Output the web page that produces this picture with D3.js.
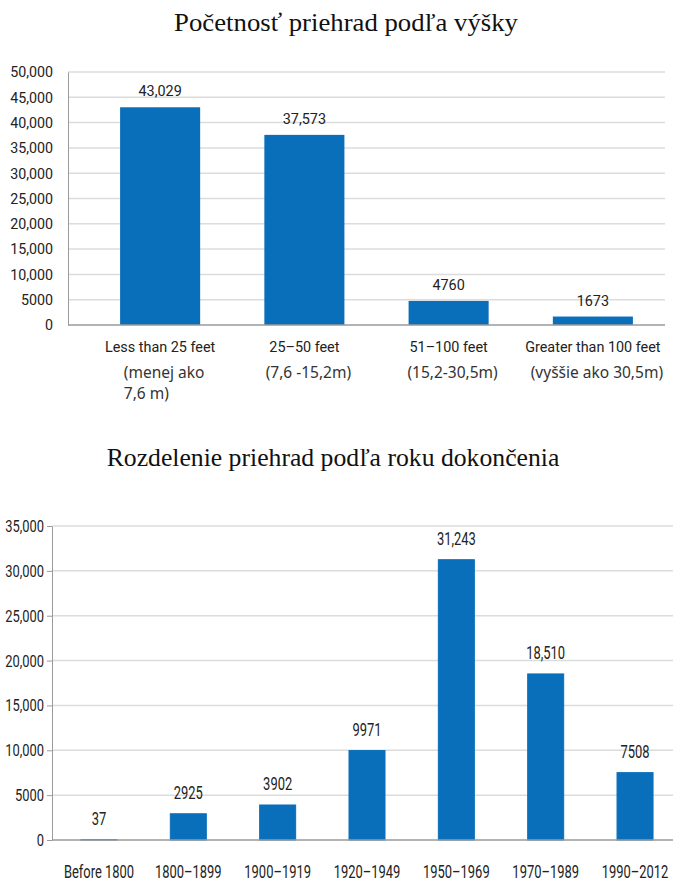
<!DOCTYPE html>
<html>
<head>
<meta charset="utf-8">
<script src="https://cdn.jsdelivr.net/npm/d3@7"></script>
<style>
  html, body { margin: 0; padding: 0; background: #fff; }
  svg { display: block; }
  .narrow { font-family: "Roboto", "Liberation Sans", sans-serif; }
</style>
</head>
<body>
<svg id="chart" width="673" height="883"></svg>
<script>
// ---- Data: chart 1 (dams by height) ----
const title1 = "Početnosť priehrad podľa výšky";
const heightCategories = ["Less than 25 feet", "25–50 feet", "51–100 feet", "Greater than 100 feet"];
const heightSubLabels = [["(menej ako", "7,6 m)"], ["(7,6 -15,2m)"], ["(15,2-30,5m)"], ["(vyššie ako 30,5m)"]];
const heightValues = [43029, 37573, 4760, 1673];
const heightValueLabels = ["43,029", "37,573", "4760", "1673"];
const heightTicks = [0, 5000, 10000, 15000, 20000, 25000, 30000, 35000, 40000, 45000, 50000];
const heightTickLabels = ["0", "5000", "10,000", "15,000", "20,000", "25,000", "30,000", "35,000", "40,000", "45,000", "50,000"];

// ---- Data: chart 2 (dams by completion year) ----
const title2 = "Rozdelenie priehrad podľa roku dokončenia";
const yearCategories = ["Before 1800", "1800–1899", "1900–1919", "1920–1949", "1950–1969", "1970–1989", "1990–2012"];
const yearValues = [37, 2925, 3902, 9971, 31243, 18510, 7508];
const yearValueLabels = ["37", "2925", "3902", "9971", "31,243", "18,510", "7508"];
const yearTicks = [0, 5000, 10000, 15000, 20000, 25000, 30000, 35000];
const yearTickLabels = ["0", "5000", "10,000", "15,000", "20,000", "25,000", "30,000", "35,000"];

const BLUE = "#0a6fba";
const GRID = "#dcdcdc";
const AXIS = "#9a9a9a";
const TEXT = "#222";

const svg = d3.select("#chart");

// helper: condensed text (scaled horizontally around its anchor)
function condensed(g, x, y, str, size, sx, anchor) {
  return g.append("text")
    .attr("class", "narrow")
    .attr("transform", `translate(${x},${y}) scale(${sx},1)`)
    .attr("text-anchor", anchor || "middle")
    .attr("font-size", size).attr("fill", TEXT)
    .text(str);
}

// ================= Chart 1 =================
{
  const g = svg.append("g");
  g.append("text")
    .attr("transform", "translate(346,31) scale(1.07,1)")
    .attr("text-anchor", "middle")
    .attr("font-family", "'Liberation Serif', 'Times New Roman', serif")
    .attr("font-size", 25)
    .attr("fill", "#111")
    .text(title1);

  const y = d3.scaleLinear().domain([0, 50000]).range([325, 72]);
  const x = d3.scaleBand().domain(heightCategories).range([88, 665])
    .paddingInner(0.445).paddingOuter(0.2225);

  g.append("g").selectAll("line").data(heightTicks.filter(t => t > 0)).join("line")
    .attr("x1", 68).attr("x2", 665)
    .attr("y1", d => y(d)).attr("y2", d => y(d))
    .attr("stroke", GRID).attr("stroke-width", 1.5);

  const sx1 = 0.95;
  const yAxis = d3.axisLeft(y).tickValues(heightTicks)
    .tickFormat((d, i) => heightTickLabels[i]).tickSize(0).tickPadding(15);
  const ya = g.append("g").attr("transform", "translate(68,0)").call(yAxis);
  ya.select(".domain").attr("stroke", AXIS).attr("stroke-width", 1);
  ya.selectAll("text").attr("class", "narrow").attr("font-size", 15).attr("fill", TEXT)
    .attr("x", -15 / sx1).attr("transform", `scale(${sx1},1)`);

  g.append("g").selectAll("rect").data(heightValues).join("rect")
    .attr("x", (d, i) => x(heightCategories[i]))
    .attr("width", x.bandwidth())
    .attr("y", d => y(d))
    .attr("height", d => y(0) - y(d))
    .attr("fill", BLUE);

  g.append("line").attr("x1", 68).attr("x2", 665).attr("y1", y(0)).attr("y2", y(0))
    .attr("stroke", AXIS).attr("stroke-width", 1.5);

  heightValues.forEach((v, i) => {
    condensed(g, x(heightCategories[i]) + x.bandwidth() / 2, y(v) - 11, heightValueLabels[i], 15, 0.96);
  });

  heightCategories.forEach(c => {
    condensed(g, x(c) + x.bandwidth() / 2, 352, c, 15, 0.96);
  });

  heightCategories.forEach((c, i) => {
    const cx = x(c) + x.bandwidth() / 2 + 4;
    const lines = heightSubLabels[i];
    const first = g.append("text")
      .attr("x", cx).attr("y", 378)
      .attr("text-anchor", "middle")
      .attr("font-family", "'Noto Sans', 'Open Sans', sans-serif")
      .attr("font-size", 15.5).attr("fill", "#333")
      .text(lines[0]);
    if (lines.length > 1) {
      const w = first.node().getComputedTextLength();
      g.append("text")
        .attr("x", cx - w / 2).attr("y", 399)
        .attr("text-anchor", "start")
        .attr("font-family", "'Noto Sans', 'Open Sans', sans-serif")
        .attr("font-size", 15.5).attr("fill", "#333")
        .text(lines[1]);
    }
  });
}

// ================= Chart 2 =================
{
  const g = svg.append("g");
  g.append("text")
    .attr("x", 333).attr("y", 466)
    .attr("text-anchor", "middle")
    .attr("font-family", "'Liberation Serif', 'Times New Roman', serif")
    .attr("font-size", 25.7)
    .attr("fill", "#111")
    .text(title2);

  const y = d3.scaleLinear().domain([0, 35000]).range([840, 526]);
  const x = d3.scaleBand().domain(yearCategories).range([54.3, 679.7])
    .paddingInner(0.597).paddingOuter(0.2985);

  g.append("g").selectAll("line").data(yearTicks.filter(t => t > 0)).join("line")
    .attr("x1", 52).attr("x2", 673)
    .attr("y1", d => y(d)).attr("y2", d => y(d))
    .attr("stroke", GRID).attr("stroke-width", 1.5);

  const sx2 = 0.76;
  const yAxis = d3.axisLeft(y).tickValues(yearTicks)
    .tickFormat((d, i) => yearTickLabels[i]).tickSize(5).tickSizeOuter(0).tickPadding(3);
  const ya = g.append("g").attr("transform", "translate(52,0)").call(yAxis);
  ya.select(".domain").attr("stroke", AXIS).attr("stroke-width", 1);
  ya.selectAll(".tick line").attr("stroke", AXIS);
  ya.selectAll("text").attr("class", "narrow").attr("font-size", 17).attr("fill", TEXT)
    .attr("x", -8 / sx2).attr("transform", `scale(${sx2},1)`);

  g.append("g").selectAll("rect").data(yearValues).join("rect")
    .attr("x", (d, i) => x(yearCategories[i]))
    .attr("width", x.bandwidth())
    .attr("y", d => y(d))
    .attr("height", d => y(0) - y(d))
    .attr("fill", BLUE)
    .attr("stroke", BLUE).attr("stroke-width", 1);

  g.append("line").attr("x1", 52).attr("x2", 673).attr("y1", y(0)).attr("y2", y(0))
    .attr("stroke", AXIS).attr("stroke-width", 1.5);

  yearValues.forEach((v, i) => {
    condensed(g, x(yearCategories[i]) + x.bandwidth() / 2, y(v) - 15, yearValueLabels[i], 17.5, 0.74);
  });

  yearCategories.forEach(c => {
    condensed(g, x(c) + x.bandwidth() / 2, 878, c, 17.5, 0.74);
  });
}
</script>
</body>
</html>
